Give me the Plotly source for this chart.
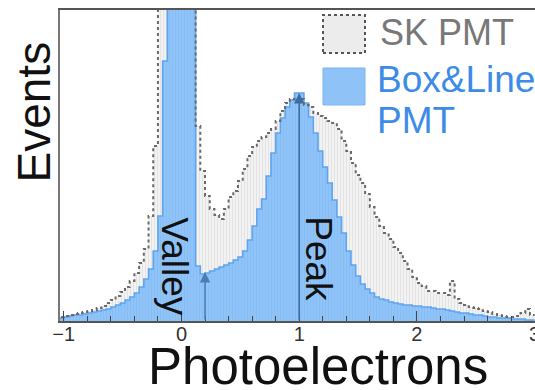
import plotly.graph_objects as go

# ---- data (events per 0.04 p.e. bin, arbitrary scale) ----
bin_start = -1.04
bin_width = 0.04

sk_pmt = [4, 5, 6, 7, 8, 9, 10, 11, 13, 15, 18, 21, 25, 29, 34, 40, 48, 58, 72, 105,
          175, 600, 1300, 1900, 2300, 2400, 2100, 1500, 700, 195, 150, 125, 112, 106, 102, 112,
          124, 130, 140, 152, 165, 174, 180, 184, 188, 192, 200, 210, 218, 222, 220, 222,
          216, 214, 208, 205, 203, 200, 198, 192, 180, 170, 158, 146, 138, 127, 114, 104,
          95, 88, 82, 74, 68, 60, 52, 44, 38, 35, 30, 30, 28, 28, 26, 40, 22, 18, 16, 14,
          13, 12, 10, 9, 7, 6, 5, 4, 4, 5, 8, 12, 6]

box_line_pmt = [3, 4, 5, 6, 6, 7, 8, 9, 10, 11, 12, 14, 16, 18, 21, 24, 28, 34, 42, 52,
                70, 105, 260, 1100, 2200, 2600, 2300, 1500, 600, 55, 47, 48, 50, 52, 54, 56,
                58, 61, 64, 70, 81, 95, 112, 122, 145, 168, 188, 203, 214, 221, 228, 228,
                218, 204, 188, 170, 154, 138, 121, 104, 88, 70, 56, 45, 37, 32, 28, 24,
                22, 21, 19, 18, 17, 16, 16, 15, 15, 14, 14, 13, 12, 12, 11, 10, 9, 8, 8, 7,
                6, 6, 5, 4, 4, 3, 3, 3, 2, 2, 2, 1, 1]

x_ticks = [-1, 0, 1, 2, 3]
x_tick_labels = ["\u22121", "0", "1", "2", "3"]

valley_x, valley_y = 0.2, 49
peak_x, peak_y = 1.0, 228

FONT = "Liberation Sans, Arial, Helvetica, sans-serif"


def step_xy(values):
    n = len(values)
    edges = [round(bin_start + i * bin_width, 4) for i in range(n + 1)]
    xs = [edges[0]] + edges
    ys = [0] + list(values) + [values[-1]]
    return xs, ys


sk_x, sk_y = step_xy(sk_pmt)
bl_x, bl_y = step_xy(box_line_pmt)

fig = go.Figure()

# SK PMT fill (grey, vertical hatch)
fig.add_trace(go.Scatter(
    x=sk_x, y=sk_y, mode="lines", line=dict(width=0, shape="hv"),
    fill="tozeroy", fillcolor="#efefef",
    fillpattern=dict(shape="|", bgcolor="#f2f2f2", fgcolor="#d4d4d4", size=3, solidity=0.35),
    hoverinfo="skip", showlegend=False))

# Box&Line PMT fill + outline
fig.add_trace(go.Scatter(
    x=bl_x, y=bl_y, mode="lines", line=dict(width=1.6, shape="hv", color="#5fa4f0"),
    fill="tozeroy", fillcolor="#8fc3f7",
    fillpattern=dict(shape="|", bgcolor="#90c4f8", fgcolor="#7cb6f2", size=3, solidity=0.35),
    hoverinfo="skip", showlegend=False))

# SK PMT dotted outline on top
fig.add_trace(go.Scatter(
    x=sk_x, y=sk_y, mode="lines",
    line=dict(width=2, shape="hv", color="#6a6a6a", dash="dot"),
    hoverinfo="skip", showlegend=False))

annotations = [
    # arrows
    dict(x=valley_x, y=valley_y, ax=valley_x, ay=0, xref="x", yref="y", axref="x", ayref="y",
         text="", showarrow=True, arrowhead=2, arrowsize=1.3, arrowwidth=1.6, arrowcolor="#4a7db5"),
    dict(x=peak_x, y=peak_y, ax=peak_x, ay=0, xref="x", yref="y", axref="x", ayref="y",
         text="", showarrow=True, arrowhead=2, arrowsize=1.3, arrowwidth=1.6, arrowcolor="#3b6ca3"),
    # rotated labels
    dict(x=-0.057, y=54, xref="x", yref="y", text="Valley", textangle=90, showarrow=False,
         font=dict(family=FONT, size=37, color="#111"), xanchor="center", yanchor="middle"),
    dict(x=1.166, y=62, xref="x", yref="y", text="Peak", textangle=90, showarrow=False,
         font=dict(family=FONT, size=37, color="#111"), xanchor="center", yanchor="middle"),
    # axis titles
    dict(x=0.5435, y=-0.145, xref="paper", yref="paper", text="Photoelectrons", showarrow=False,
         font=dict(family=FONT, size=51, color="#111"), xanchor="center", yanchor="middle"),
    dict(x=-0.0537, y=0.672, xref="paper", yref="paper", text="Events", textangle=-90,
         showarrow=False, font=dict(family=FONT, size=46, color="#111"),
         xanchor="center", yanchor="middle"),
    # legend texts
    dict(x=0.6695, y=0.929, xref="paper", yref="paper", text="SK PMT", showarrow=False,
         font=dict(family=FONT, size=36, color="#787878"), xanchor="left", yanchor="middle"),
    dict(x=0.663, y=0.775, xref="paper", yref="paper", text="Box&amp;Line", showarrow=False,
         font=dict(family=FONT, size=37, color="#3d8be8"), xanchor="left", yanchor="middle"),
    dict(x=0.663, y=0.646, xref="paper", yref="paper", text="PMT", showarrow=False,
         font=dict(family=FONT, size=37, color="#3d8be8"), xanchor="left", yanchor="middle"),
]

shapes = [
    dict(type="rect", xref="paper", yref="paper", x0=0.5537, x1=0.6421, y0=0.8617, y1=0.9839,
         fillcolor="#ececec", line=dict(color="#555", width=2, dash="dot")),
    dict(type="rect", xref="paper", yref="paper", x0=0.5537, x1=0.6421, y0=0.6945, y1=0.8135,
         fillcolor="#8fc3f7", line=dict(color="#7ab6f3", width=1)),
]

fig.update_layout(
    width=535, height=390,
    margin=dict(l=60, r=0, t=10, b=69, autoexpand=False),
    paper_bgcolor="white", plot_bgcolor="white",
    showlegend=False,
    annotations=annotations,
    shapes=shapes,
    xaxis=dict(range=[-1.032, 3.003], showgrid=False, zeroline=False, automargin=False,
               showline=True, linecolor="#555", linewidth=1.5, mirror=True,
               tickmode="array", tickvals=x_ticks, ticktext=x_tick_labels,
               ticks="inside", ticklen=10, tickwidth=1, tickcolor="#444",
               minor=dict(dtick=0.2, tick0=0, ticks="inside", ticklen=5, tickcolor="#444"),
               tickfont=dict(family=FONT, size=20, color="#333"),
               ticklabelstandoff=-6, ticklabeloverflow="allow"),
    yaxis=dict(range=[0, 311], showgrid=False, zeroline=False, showline=True, automargin=False,
               linecolor="#777", linewidth=1.5, showticklabels=False, ticks=""),
)

fig.write_html("out.html", post_script="document.body.style.margin='0';",
               config={"displayModeBar": False})
